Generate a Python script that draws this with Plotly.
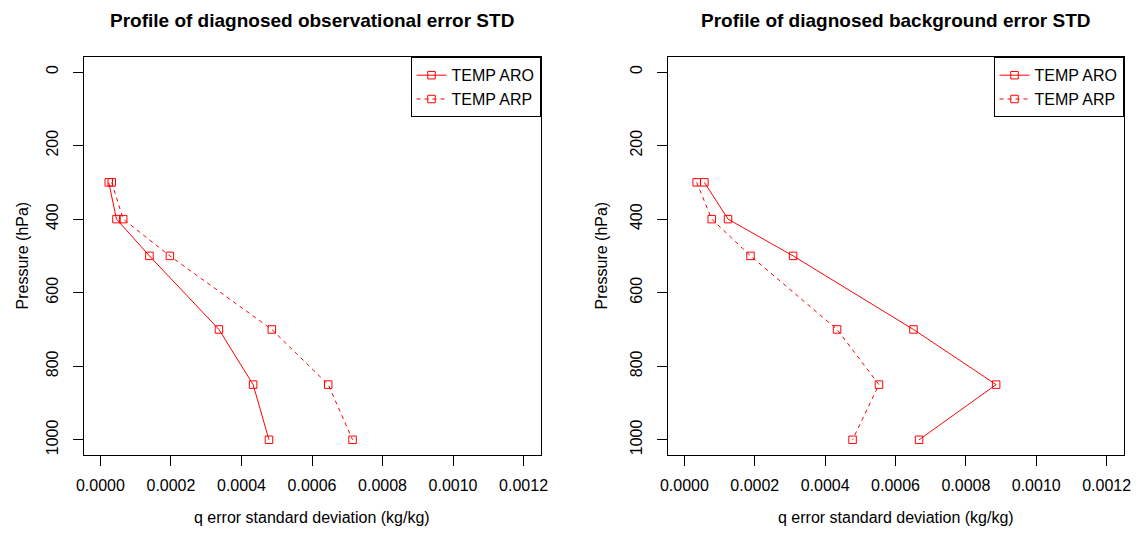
import plotly.graph_objects as go

pressure = [300, 400, 500, 700, 850, 1000]
obs_aro = [0.0000236, 0.0000455, 0.000139, 0.000336, 0.000433, 0.000478]
obs_arp = [0.0000321, 0.0000645, 0.000197, 0.000486, 0.000646, 0.000715]
bg_aro = [0.0000568, 0.000124, 0.000309, 0.000651, 0.000886, 0.000667]
bg_arp = [0.0000350, 0.0000776, 0.000188, 0.000434, 0.000553, 0.000478]

titles = ["Profile of diagnosed observational error STD",
          "Profile of diagnosed background error STD"]
x_ticks = [0, 0.0002, 0.0004, 0.0006, 0.0008, 0.0010, 0.0012]
y_ticks = [0, 200, 400, 600, 800, 1000]
series_names = ["TEMP ARO", "TEMP ARP"]

W, H = 1138, 538
FONT = "Liberation Sans, Arial, sans-serif"
RED = "#ff0000"

dom_x = [[83.5 / W, 540.5 / W], [667.5 / W, 1123.5 / W]]
dom_y = [(H - 454.5) / H, (H - 57.3) / H]
ytitle_off = [61, 66]

fig = go.Figure()
panels = [(obs_aro, obs_arp), (bg_aro, bg_arp)]
for i, (aro, arp) in enumerate(panels):
    xa = "x" if i == 0 else "x2"
    ya = "y" if i == 0 else "y2"
    lg = "legend" if i == 0 else "legend2"
    for vals, name, dash in [(aro, series_names[0], "solid"), (arp, series_names[1], "4px,4px")]:
        fig.add_trace(go.Scatter(
            x=vals, y=pressure, mode="lines+markers", name=name,
            line=dict(color=RED, width=1, dash=dash),
            marker=dict(symbol="square-open", size=7.5, color=RED, line=dict(width=1, color=RED)),
            xaxis=xa, yaxis=ya, legend=lg,
        ))

axis_common = dict(showline=True, linecolor="black", linewidth=1, mirror=True,
                   ticks="outside", ticklen=10, tickcolor="black", tickwidth=1,
                   showgrid=False, zeroline=False, automargin=False,
                   tickfont=dict(family=FONT, size=16, color="black"))

for i in range(2):
    sx = "" if i == 0 else "2"
    fig.layout["xaxis" + sx] = dict(
        domain=dom_x[i], anchor="y" + sx, range=[-0.000048, 0.001248],
        tickvals=x_ticks, ticktext=[f"{v:.4f}" for v in x_ticks],
        ticklabelstandoff=6, **axis_common)
    fig.layout["yaxis" + sx] = dict(
        domain=dom_y, anchor="x" + sx, range=[1040, -40],
        tickvals=y_ticks, ticktext=[str(v) for v in y_ticks], tickangle=-90,
        ticklabelstandoff=8, **axis_common)
    cx = (dom_x[i][0] + dom_x[i][1]) / 2
    fig.add_annotation(text="<b>" + titles[i] + "</b>", x=cx, y=1 - 20 / H,
                       xref="paper", yref="paper", showarrow=False,
                       font=dict(family=FONT, size=19, color="black"),
                       xanchor="center", yanchor="middle")
    fig.add_annotation(text="q error standard deviation (kg/kg)", x=cx, y=1 - 517 / H,
                       xref="paper", yref="paper", showarrow=False,
                       font=dict(family=FONT, size=16, color="black"),
                       xanchor="center", yanchor="middle")
    fig.add_annotation(text="Pressure (hPa)", x=(dom_x[i][0] * W - ytitle_off[i]) / W,
                       y=(dom_y[0] + dom_y[1]) / 2,
                       xref="paper", yref="paper", showarrow=False, textangle=-90,
                       font=dict(family=FONT, size=16, color="black"),
                       xanchor="center", yanchor="middle")

leg_common = dict(bordercolor="black", borderwidth=1, bgcolor="white",
                  font=dict(family=FONT, size=16, color="black"),
                  xanchor="right", yanchor="top", xref="paper", yref="paper",
                  tracegroupgap=0, itemwidth=30)
fig.update_layout(
    width=W, height=H, margin=dict(l=0, r=0, t=0, b=0),
    plot_bgcolor="white", paper_bgcolor="white",
    legend=dict(x=dom_x[0][1], y=dom_y[1], **leg_common),
    legend2=dict(x=dom_x[1][1], y=dom_y[1], **leg_common),
)

fig.write_html("out.html")
